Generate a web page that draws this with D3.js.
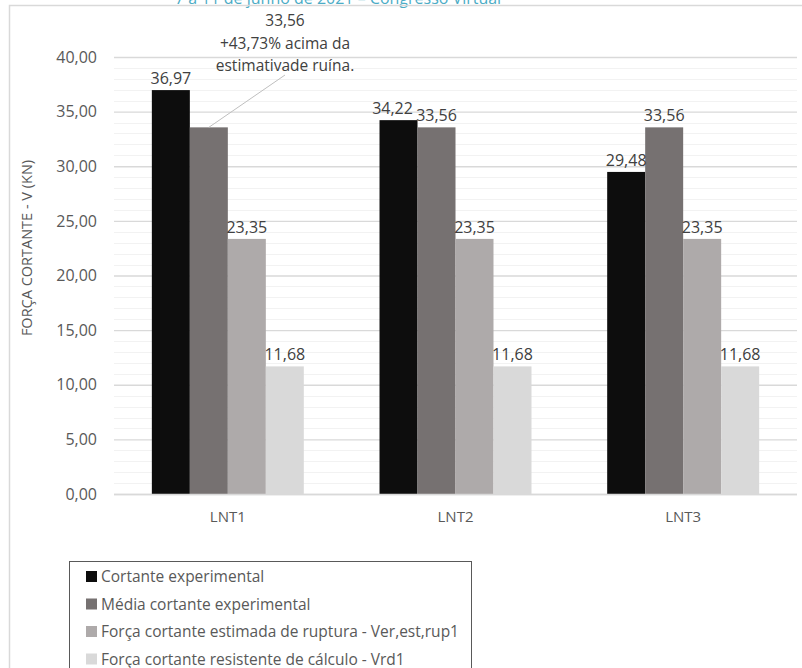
<!DOCTYPE html>
<html><head><meta charset="utf-8">
<script src="https://cdn.jsdelivr.net/npm/d3@7"></script>
<style>body{margin:0;background:#fff}svg{display:block}</style>
</head><body><svg id="c" width="802" height="668"></svg>
<script>
const categories = ["LNT1", "LNT2", "LNT3"];
const seriesNames = [
  "Cortante experimental",
  "Média cortante experimental",
  "Força cortante estimada de ruptura - Ver,est,rup1",
  "Força cortante resistente de cálculo - Vrd1"
];
const cortanteExperimental = [36.97, 34.22, 29.48];
const mediaCortanteExperimental = [33.56, 33.56, 33.56];
const forcaEstimadaRuptura = [23.35, 23.35, 23.35];
const forcaResistenteCalculo = [11.68, 11.68, 11.68];
const yTicks = [0, 5, 10, 15, 20, 25, 30, 35, 40];
const yMinorStep = 1;
const seriesColors = ["#0d0d0d", "#767171", "#aeaaaa", "#d9d9d9"];
const annotationLines = ["+43,73% acima da", "estimativade ruína."];
const headerText = "7 a 11 de junho de 2021 – Congresso Virtual";
const yTitle = "FORÇA CORTANTE - V (KN)";

const seriesValues = [cortanteExperimental, mediaCortanteExperimental, forcaEstimadaRuptura, forcaResistenteCalculo];
const fmt = v => d3.format(".2f")(v).replace(".", ",");
const FONT = "'Open Sans', sans-serif";

const svg = d3.select("#c");

// header (cut off at top, as in the source page)
svg.append("text").attr("x", 175).attr("y", 3.5).attr("fill", "#4bacc6")
  .attr("font-family", FONT).attr("font-size", 16).text(headerText);

// chart frame
svg.append("rect").attr("x", 9.5).attr("y", 5.5).attr("width", 1000).attr("height", 1000)
  .attr("fill", "none").attr("stroke", "#d9d9d9").attr("stroke-width", 1.5);

const plot = {left: 114, right: 797, top: 57, bottom: 494};
const y = d3.scaleLinear().domain([0, 40]).range([plot.bottom, plot.top]);
const x0 = d3.scaleBand().domain(categories).range([plot.left, plot.right]).paddingInner(0.3325).paddingOuter(0.16625);
const x1 = d3.scaleBand().domain(d3.range(seriesNames.length)).range([0, x0.bandwidth()]);

// minor gridlines
const minor = d3.range(0, 40 + yMinorStep, yMinorStep).filter(v => !yTicks.includes(v));
svg.append("g").selectAll("line").data(minor).join("line")
  .attr("x1", plot.left).attr("x2", plot.right)
  .attr("y1", d => Math.round(y(d)) + 0.5).attr("y2", d => Math.round(y(d)) + 0.5)
  .attr("stroke", "#f2f2f2").attr("stroke-width", 1);

// major gridlines + labels via axis
const yAxis = d3.axisLeft(y).tickValues(yTicks).tickFormat(fmt).tickSize(-(plot.right - plot.left)).tickPadding(17);
const gy = svg.append("g").attr("transform", `translate(${plot.left},0)`).call(yAxis);
gy.select(".domain").remove();
gy.selectAll(".tick line").attr("stroke", "#d9d9d9").attr("stroke-width", 1.3);
gy.selectAll(".tick text").attr("fill", "#595959").attr("font-family", FONT).attr("font-size", 16);

// bars
const groups = svg.append("g").selectAll("g").data(categories).join("g")
  .attr("transform", d => `translate(${x0(d)},0)`);
groups.selectAll("rect").data((c, ci) => seriesValues.map((s, si) => ({si, ci, v: s[ci]})))
  .join("rect")
  .attr("x", d => x1(d.si)).attr("width", x1.bandwidth())
  .attr("y", d => y(d.v)).attr("height", d => y(0) - y(d.v))
  .attr("fill", d => seriesColors[d.si]);

// axis baseline
svg.append("line").attr("x1", plot.left).attr("x2", plot.right)
  .attr("y1", y(0) + 0.5).attr("y2", y(0) + 0.5).attr("stroke", "#d9d9d9").attr("stroke-width", 1.3);

// category labels
const xAxis = d3.axisBottom(x0).tickSize(0).tickPadding(17);
const gx = svg.append("g").attr("transform", `translate(0,${y(0)})`).call(xAxis);
gx.select(".domain").remove();
gx.selectAll(".tick text").attr("fill", "#595959").attr("font-family", FONT).attr("font-size", 15);

// data labels (skip the annotated one)
groups.selectAll("text.lbl").data((c, ci) => seriesValues.map((s, si) => ({si, ci, v: s[ci]})).filter(d => !(d.ci === 0 && d.si === 1)))
  .join("text").attr("class", "lbl")
  .attr("x", d => x1(d.si) + x1.bandwidth() / 2 + (d.ci === 1 && d.si === 0 ? -6 : 0))
  .attr("y", d => y(d.v) - 6)
  .attr("text-anchor", "middle").attr("fill", "#404040")
  .attr("font-family", FONT).attr("font-size", 16)
  .text(d => fmt(d.v));

// annotated label for LNT1 média
const annX = 285;
const annLines = [fmt(mediaCortanteExperimental[0])].concat(annotationLines);
svg.append("g").selectAll("text").data(annLines).join("text")
  .attr("x", annX).attr("y", (d, i) => 26 + i * 22.5)
  .attr("text-anchor", "middle").attr("fill", "#404040")
  .attr("font-family", FONT).attr("font-size", 15.5).text(d => d);
svg.append("line")
  .attr("x1", annX).attr("y1", 75)
  .attr("x2", x0(categories[0]) + x1(1) + x1.bandwidth() / 2).attr("y2", y(mediaCortanteExperimental[0]))
  .attr("stroke", "#bfbfbf").attr("stroke-width", 1);

// y title
svg.append("text").attr("transform", "translate(32,248) rotate(-90)")
  .attr("text-anchor", "middle").attr("fill", "#595959")
  .attr("font-family", FONT).attr("font-size", 14.5).text(yTitle);

// legend
const lg = svg.append("g");
lg.append("rect").attr("x", 69.5).attr("y", 561.5).attr("width", 402).attr("height", 200)
  .attr("fill", "#fff").attr("stroke", "#595959").attr("stroke-width", 1);
const items = lg.selectAll("g.it").data(seriesNames).join("g").attr("class", "it")
  .attr("transform", (d, i) => `translate(86,${576 + i * 27.5})`);
items.append("rect").attr("x", 0).attr("y", -5).attr("width", 11).attr("height", 11)
  .attr("fill", (d, i) => seriesColors[i]);
items.append("text").attr("x", 15).attr("y", 6).attr("fill", "#595959")
  .attr("font-family", FONT).attr("font-size", 15.5).text(d => d);
</script></body></html>
